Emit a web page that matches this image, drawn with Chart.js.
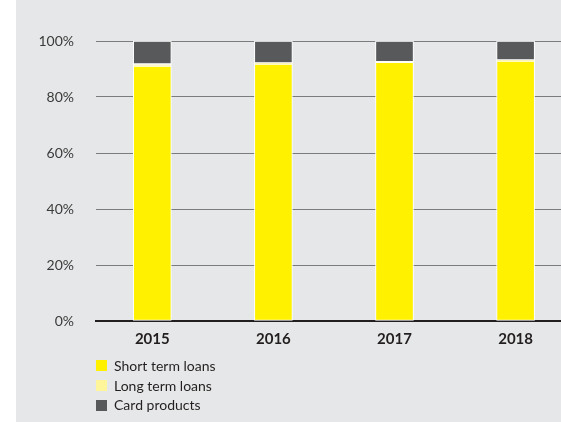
<!DOCTYPE html>
<html>
<head>
<meta charset="utf-8">
<script src="https://cdn.jsdelivr.net/npm/chart.js@4/dist/chart.umd.min.js"></script>
<style>
    html, body { margin: 0; padding: 0; background: #ffffff; }
    #wrap { position: relative; width: 561px; height: 422px; overflow: hidden; }
    #panel { position: absolute; left: 16px; top: 0; width: 545px; height: 422px; background: #e6e7e8; }
    #loanChart { position: absolute; left: 0; top: 0; }
    #legend { position: absolute; left: 96px; top: 356px; font-family: Lato, sans-serif; font-size: 14px; color: #231f20; }
    #legend .item { height: 19.7px; line-height: 19.7px; display: flex; align-items: center; }
    #legend .box { width: 11px; height: 11px; margin-right: 7px; flex: none; }
</style>
</head>
<body>
<div id="wrap">
    <div id="panel"></div>
    <canvas id="loanChart" width="561" height="422"></canvas>
    <div id="legend"></div>
</div>
<script>
// Years on the x axis
const years = ['2015', '2016', '2017', '2018'];

// Portfolio shares, % of total
const shortTermLoans = [91.0, 91.8, 92.4, 92.8];
const longTermLoans = [0.8, 0.4, 0.2, 0.4];
const cardProducts = [8.2, 7.8, 7.4, 6.8];

const seriesNames = ['Short term loans', 'Long term loans', 'Card products'];
const seriesColors = ['#fff100', '#fff59a', '#58595b'];

const yTicks = [0, 20, 40, 60, 80, 100];

/**
 * Build {x, y} points so bars sit on a linear x scale
 */
function toPoints(values) {
    return values.map((v, i) => ({ x: i, y: v }));
}

/**
 * Legend drawn as plain HTML under the axis
 */
function buildLegend(chart) {
    const box = document.getElementById('legend');
    box.innerHTML = '';
    chart.data.datasets.forEach(ds => {
        const row = document.createElement('div');
        row.className = 'item';
        const sw = document.createElement('span');
        sw.className = 'box';
        sw.style.background = ds.backgroundColor;
        const label = document.createElement('span');
        label.textContent = ds.label;
        row.appendChild(sw);
        row.appendChild(label);
        box.appendChild(row);
    });
}

document.addEventListener('DOMContentLoaded', function() {
    const ctx = document.getElementById('loanChart').getContext('2d');
    const allSeries = [shortTermLoans, longTermLoans, cardProducts];

    const chart = new Chart(ctx, {
        type: 'bar',
        data: {
            datasets: allSeries.map((values, i) => ({
                label: seriesNames[i],
                data: toPoints(values),
                backgroundColor: seriesColors[i],
                borderColor: '#ffffff',
                borderWidth: 1,
                borderSkipped: false,
                barThickness: 38
            }))
        },
        options: {
            responsive: false,
            animation: false,
            layout: {
                padding: { top: 41, left: 0, right: 0, bottom: 0 }
            },
            scales: {
                x: {
                    type: 'linear',
                    stacked: true,
                    offset: false,
                    min: -0.465,
                    max: 3.375,
                    z: 1,
                    afterBuildTicks: function(scale) {
                        scale.ticks = years.map((_, i) => ({ value: i }));
                    },
                    afterFit: function(scale) {
                        scale.height = 101;
                    },
                    grid: { display: false, drawTicks: false },
                    border: { display: true, color: '#231f20', width: 2 },
                    ticks: {
                        padding: 9,
                        color: '#231f20',
                        font: { family: 'Lato', size: 15, weight: 'bold' },
                        callback: function(value) {
                            return years[value] || '';
                        }
                    }
                },
                y: {
                    stacked: true,
                    min: 0,
                    max: 100,
                    afterBuildTicks: function(scale) {
                        scale.ticks = yTicks.map(v => ({ value: v }));
                    },
                    afterFit: function(scale) {
                        scale.width = 96;
                    },
                    grid: { color: '#7b7c7f', lineWidth: 1, drawTicks: false },
                    border: { display: false },
                    ticks: {
                        padding: 22,
                        color: '#3a3a3a',
                        font: { family: 'Lato', size: 14 },
                        callback: function(value) {
                            return value + '%';
                        }
                    }
                }
            },
            plugins: {
                legend: { display: false },
                tooltip: { enabled: false }
            }
        }
    });

    buildLegend(chart);
});
</script>
</body>
</html>
